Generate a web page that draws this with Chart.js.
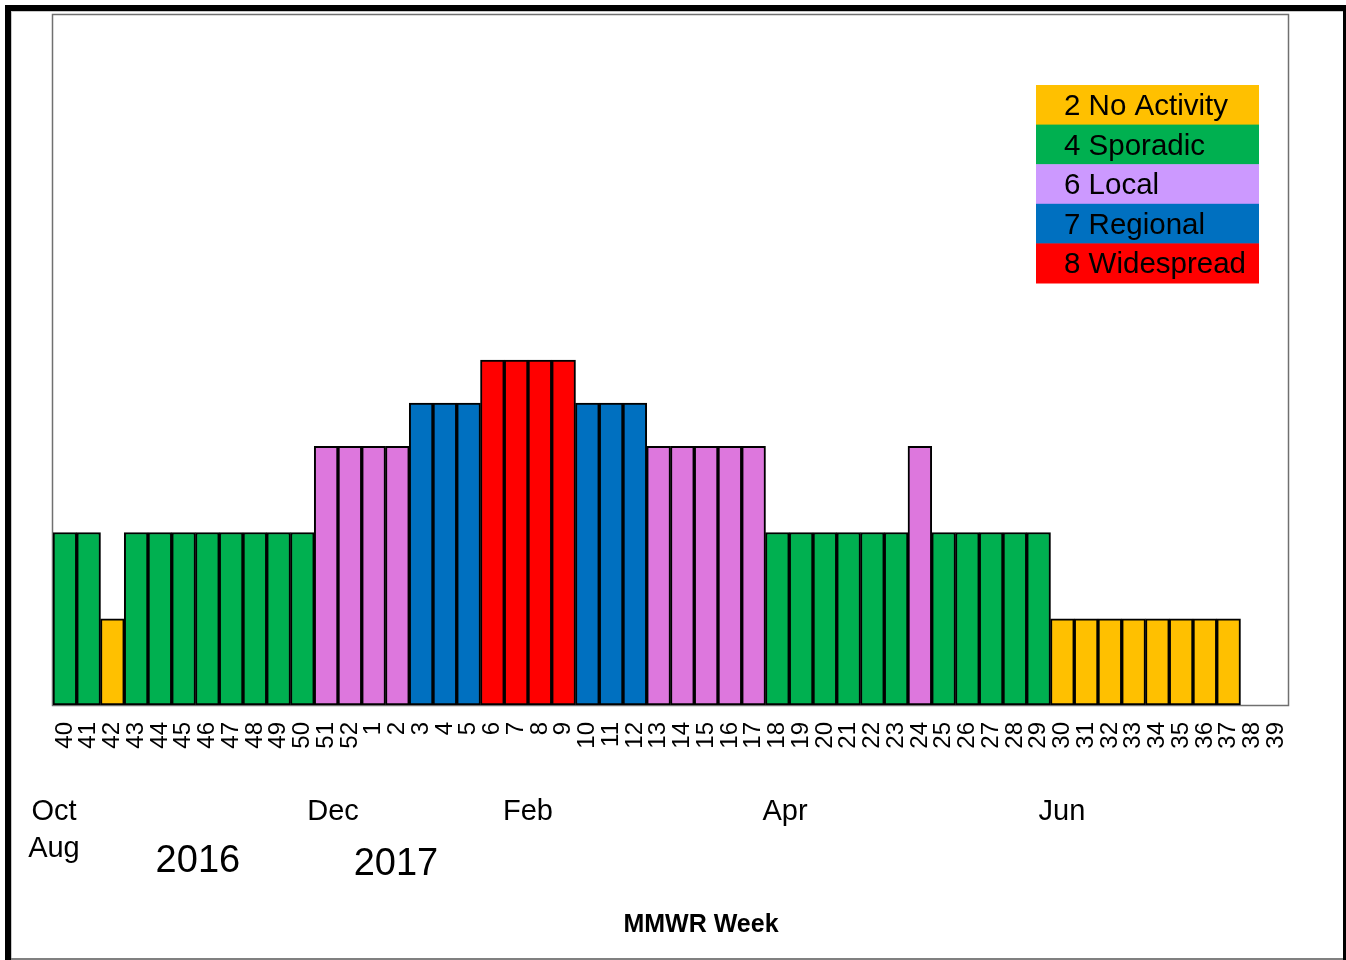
<!DOCTYPE html>
<html>
<head>
<meta charset="utf-8">
<script src="https://cdn.jsdelivr.net/npm/chart.js@4/dist/chart.umd.min.js"></script>
<style>
html,body{margin:0;padding:0;background:#fff;}
canvas{display:block;}
</style>
</head>
<body>
<canvas id="c" width="1346" height="960"></canvas>
<script>
// ---- data ----
const weeks = ['40','41','42','43','44','45','46','47','48','49','50','51','52',
  '1','2','3','4','5','6','7','8','9','10','11','12','13','14','15','16','17','18','19','20',
  '21','22','23','24','25','26','27','28','29','30','31','32','33','34','35','36','37','38','39'];
const activityLevel = [4,4,2,4,4,4,4,4,4,4,4,6,6,
  6,6,7,7,7,8,8,8,8,7,7,7,6,6,6,6,6,4,4,4,
  4,4,4,6,4,4,4,4,4,2,2,2,2,2,2,2,2,null,null];
const legendLevels = [2,4,6,7,8];
const legendLabels = ['2 No Activity','4 Sporadic','6 Local','7 Regional','8 Widespread'];
const monthLabels = ['Oct','Aug','Dec','Feb','Apr','Jun'];
const yearLabels = ['2016','2017'];
const axisTitle = 'MMWR Week';

// ---- styles ----
const barColor = {2:'#FFC000',4:'#00B050',6:'#DD77DD',7:'#0070C0',8:'#FF0000'};
const legendColor = {2:'#FFC000',4:'#00B050',6:'#CC99FF',7:'#0070C0',8:'#FF0000'};

const framePlugin = {
  id:'frame',
  beforeDraw(chart){
    const ctx = chart.ctx;
    ctx.save();
    ctx.fillStyle='#fff';
    ctx.fillRect(0,0,chart.width,chart.height);
    ctx.fillStyle='#000';
    ctx.fillRect(5,5,1341,6);
    ctx.fillRect(5,5,6,955);
    ctx.fillRect(1343,5,3,955);
    ctx.fillStyle='#808080';
    ctx.fillRect(11,958,1332,2);
    ctx.fillStyle='#c8c8c8';
    ctx.fillRect(11,11,1332,1);
    ctx.fillRect(11,11,1,947);
    ctx.restore();
  },
  beforeDatasetsDraw(chart){
    const {ctx, chartArea:a} = chart;
    ctx.save();
    ctx.strokeStyle='#707070';
    ctx.lineWidth=1.5;
    ctx.strokeRect(a.left-0.5,a.top-0.5,a.right-a.left+1,a.bottom-a.top+1);
    ctx.restore();
  },
  afterDraw(chart){
    const {ctx, chartArea:a, scales:{x}} = chart;
    ctx.save();
    // legend
    const lx = a.right - 252, lw = 223, rowH = 39.6;
    let ly = a.top + 70;
    ctx.font = '29.5px Arial, "Liberation Sans", sans-serif';
    ctx.textBaseline='alphabetic';
    ctx.textAlign='left';
    legendLevels.forEach((lv,i)=>{
      ctx.fillStyle = legendColor[lv];
      ctx.fillRect(lx, ly + i*rowH, lw, rowH+0.5);
      ctx.fillStyle = '#000';
      ctx.fillText(legendLabels[i], lx+28, ly + i*rowH + 30);
    });
    // month labels
    ctx.font = '29px Arial, "Liberation Sans", sans-serif';
    ctx.textAlign='center';
    ctx.fillStyle='#000';
    const monthPos = [-0.46,-0.46,11.29,19.5,30.32,41.98];
    const monthY = [820,857,820,820,820,820];
    monthLabels.forEach((m,i)=>{
      ctx.fillText(m, x.getPixelForValue(monthPos[i]), monthY[i]);
    });
    ctx.font = '38px Arial, "Liberation Sans", sans-serif';
    const yearPos = [5.6,13.94];
    const yearY = [872,875];
    yearLabels.forEach((yl,i)=>{
      ctx.fillText(yl, x.getPixelForValue(yearPos[i]), yearY[i]);
    });
    ctx.font = 'bold 25px Arial, "Liberation Sans", sans-serif';
    ctx.fillText(axisTitle, 701, 932);
    ctx.restore();
  }
};

new Chart(document.getElementById('c'), {
  type:'bar',
  data:{
    labels: weeks,
    datasets:[{
      data: activityLevel,
      backgroundColor: activityLevel.map(v => v==null ? 'rgba(0,0,0,0)' : barColor[v]),
      borderColor:'#000',
      borderWidth:2,
      borderSkipped:false,
      barPercentage:1,
      categoryPercentage:1
    }]
  },
  options:{
    responsive:false,
    animation:false,
    devicePixelRatio:1,
    layout:{padding:{left:53,top:15,right:58,bottom:0}},
    plugins:{legend:{display:false},tooltip:{enabled:false},title:{display:false}},
    scales:{
      y:{display:false,min:0,max:16},
      x:{
        offset:true,
        border:{display:false},
        grid:{display:false,drawTicks:false},
        ticks:{
          autoSkip:false,minRotation:90,maxRotation:90,padding:17,
          color:'#000',
          font:{family:'Arial, "Liberation Sans", sans-serif',size:24}
        },
        afterFit(s){ s.height = 255; }
      }
    }
  },
  plugins:[framePlugin]
});
</script>
</body>
</html>
